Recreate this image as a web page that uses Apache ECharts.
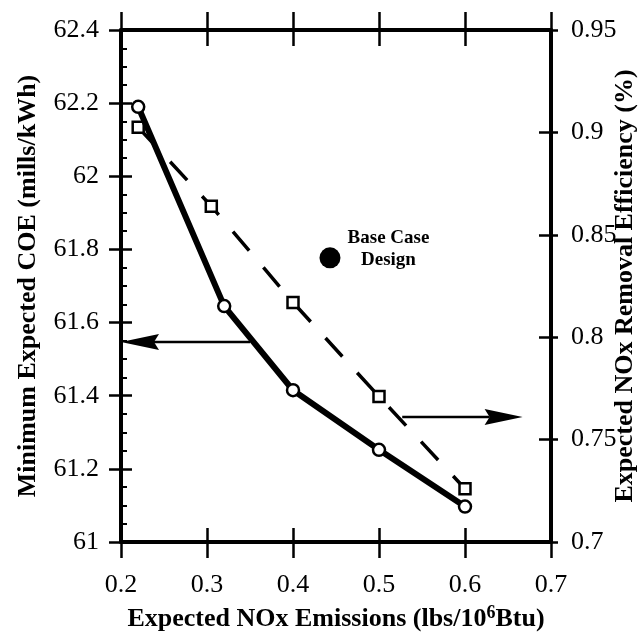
<!DOCTYPE html>
<html><head><meta charset="utf-8">
<script src="https://cdn.jsdelivr.net/npm/echarts@6/dist/echarts.min.js"></script>
<style>html,body{margin:0;padding:0;background:#fff}#c{width:644px;height:634px}</style>
</head><body><div id="c"></div>
<script>
// ---- data ----
const xRange = [0.2, 0.7, 0.1];          // min, max, interval
const coeRange = [61, 62.4, 0.2];
const effRange = [0.7, 0.95, 0.05];
const coeX = [0.22, 0.32, 0.40, 0.50, 0.60];
const coeY = [62.19, 61.645, 61.415, 61.252, 61.097];
const effX = [0.22, 0.305, 0.40, 0.50, 0.60];
const effY = [0.9025, 0.864, 0.817, 0.771, 0.726];
const baseCase = [0.443, 61.777];
const baseCaseLabel = 'Base Case\nDesign';
const leftArrow = [0.35, 61.547, 0.2, 61.547];     // from x,y to x,y (COE axis)
const rightArrow = [0.527, 0.761, 0.667, 0.761];   // from x,y to x,y (efficiency axis)
const xTitle = 'Expected NOx Emissions (lbs/10{sup|6}Btu)';
const leftTitle = 'Minimum Expected COE (mills/kWh)';
const rightTitle = 'Expected NOx Removal Efficiency (%)';

const FONT = 'Liberation Serif';
const BLACK = '#000';

function arrowItem(params, api) {
  const p1 = api.coord([api.value(0), api.value(1)]);
  const p2 = api.coord([api.value(2), api.value(3)]);
  const dx = p2[0] - p1[0], dy = p2[1] - p1[1];
  const len = Math.hypot(dx, dy), ux = dx / len, uy = dy / len;
  const L = 38, W = 8, N = 5;
  const bx = p2[0] - ux * L, by = p2[1] - uy * L;
  return {
    type: 'group',
    children: [
      { type: 'line', shape: { x1: p1[0], y1: p1[1], x2: bx + ux * N, y2: by + uy * N },
        style: { stroke: BLACK, lineWidth: 2.5 } },
      { type: 'polygon', shape: { points: [
          [p2[0], p2[1]], [bx - uy * W, by + ux * W], [bx + ux * N, by + uy * N], [bx + uy * W, by - ux * W]
        ] }, style: { fill: BLACK } }
    ]
  };
}

const lineAx = { show: true, onZero: false, lineStyle: { color: BLACK, width: 4 } };
const noLine = { show: false };
const tickLbl = { color: BLACK, fontFamily: FONT, fontSize: 26 };

function xAx(pos, showLine, inside, len, extra) {
  return Object.assign({
    type: 'value', position: pos, min: xRange[0], max: xRange[1], interval: xRange[2],
    axisLine: showLine ? lineAx : noLine,
    axisTick: { show: true, inside: inside, length: len, lineStyle: { color: BLACK, width: 2.5 } },
    axisLabel: { show: false }, splitLine: { show: false }
  }, extra || {});
}
function yAx(pos, r, showLine, inside, len, extra) {
  return Object.assign({
    type: 'value', position: pos, min: r[0], max: r[1], interval: r[2],
    axisLine: showLine ? lineAx : noLine,
    axisTick: { show: true, inside: inside, length: len, lineStyle: { color: BLACK, width: 2.5 } },
    axisLabel: { show: false }, splitLine: { show: false }
  }, extra || {});
}

const chart = echarts.init(document.getElementById('c'), null, { renderer: 'canvas' });
chart.setOption({
  backgroundColor: '#fff',
  animation: false,
  grid: { left: 121, right: 93, top: 30, bottom: 92, containLabel: false, outerBoundsMode: 'none' },
  xAxis: [
    xAx('bottom', true, true, 14, {
      axisLabel: Object.assign({ show: true, margin: 30 }, tickLbl),
      name: xTitle, nameLocation: 'middle', nameGap: 62, nameMoveOverlap: false,
      nameTextStyle: { color: BLACK, fontFamily: FONT, fontWeight: 'bold', fontSize: 26,
        rich: { sup: { fontFamily: FONT, fontWeight: 'bold', fontSize: 18, verticalAlign: 'top', padding: [0, 0, 12, 0] } } }
    }),
    xAx('bottom', false, false, 16),
    xAx('top', true, true, 16),
    xAx('top', false, false, 18)
  ],
  yAxis: [
    yAx('left', coeRange, true, true, 11, {
      minorTick: { show: true, splitNumber: 4, length: 6, lineStyle: { color: BLACK, width: 2 } },
      axisLabel: Object.assign({ show: true, margin: 22 }, tickLbl),
      name: leftTitle, nameLocation: 'middle', nameGap: 80, nameRotate: 90, nameMoveOverlap: false,
      nameTextStyle: { color: BLACK, fontFamily: FONT, fontWeight: 'bold', fontSize: 26 }
    }),
    yAx('left', coeRange, false, false, 12),
    yAx('right', effRange, true, false, 7, {
      axisLabel: Object.assign({ show: true, margin: 20 }, tickLbl),
      name: rightTitle, nameLocation: 'middle', nameGap: 61, nameRotate: 90, nameMoveOverlap: false,
      nameTextStyle: { color: BLACK, fontFamily: FONT, fontWeight: 'bold', fontSize: 26 }
    }),
    yAx('right', effRange, false, true, 12)
  ],
  series: [
    {
      type: 'line', xAxisIndex: 0, yAxisIndex: 2, z: 3,
      data: effX.map((x, i) => [x, effY[i]]),
      lineStyle: { color: BLACK, width: 3.5, type: [25, 22] },
      symbol: 'rect', symbolSize: 11, showAllSymbol: true,
      itemStyle: { color: '#fff', borderColor: BLACK, borderWidth: 2.5 }
    },
    {
      type: 'line', xAxisIndex: 0, yAxisIndex: 0, z: 4,
      data: coeX.map((x, i) => [x, coeY[i]]),
      lineStyle: { color: BLACK, width: 6 },
      symbol: 'circle', symbolSize: 12, showAllSymbol: true,
      itemStyle: { color: '#fff', borderColor: BLACK, borderWidth: 2.5 }
    },
    {
      type: 'scatter', xAxisIndex: 0, yAxisIndex: 0, z: 5,
      data: [baseCase], symbol: 'circle', symbolSize: 21,
      itemStyle: { color: BLACK, opacity: 1 },
      label: { show: true, formatter: baseCaseLabel, position: [69, 2], align: 'center', verticalAlign: 'middle',
        color: BLACK, opacity: 1, fontFamily: FONT, fontWeight: 'bold', fontSize: 19, lineHeight: 22 }
    },
    {
      type: 'custom', xAxisIndex: 0, yAxisIndex: 0, z: 2,
      data: [leftArrow], encode: { x: [0, 2], y: [1, 3] }, renderItem: arrowItem
    },
    {
      type: 'custom', xAxisIndex: 0, yAxisIndex: 2, z: 2,
      data: [rightArrow], encode: { x: [0, 2], y: [1, 3] }, renderItem: arrowItem
    }
  ]
});
</script></body></html>
